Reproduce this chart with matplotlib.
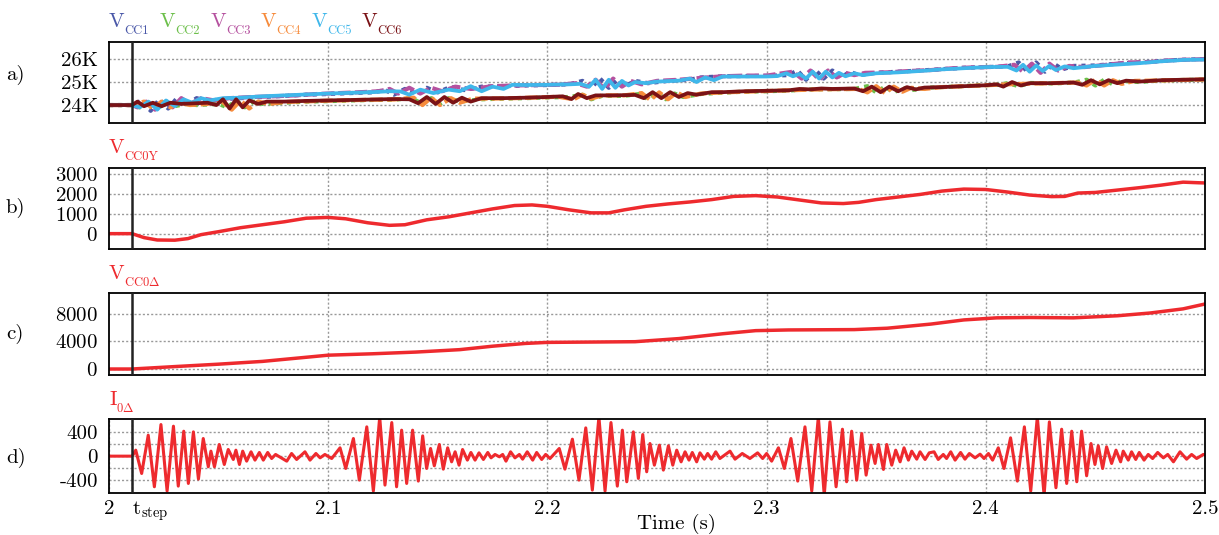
import numpy as np
import matplotlib
matplotlib.use("Agg")
import matplotlib.pyplot as plt

plt.rcParams['font.family'] = 'serif'
plt.rcParams['font.serif'] = ['cmr10']
plt.rcParams['mathtext.fontset'] = 'cm'
plt.rcParams['axes.formatter.use_mathtext'] = True

# ---- data (time in s, value) ----
t_step = 2.0105

vcc1 = [(2.0, 24000), (2.0105, 24000), (2.015, 24200), (2.019, 23750), (2.023, 24250), (2.027, 23850),
        (2.031, 24300), (2.035, 24000), (2.040, 24300), (2.045, 24150), (2.05, 24250), (2.06, 24300),
        (2.07, 24350), (2.08, 24400), (2.09, 24450), (2.10, 24480), (2.11, 24520), (2.12, 24550),
        (2.126, 24650), (2.130, 24450), (2.135, 24700), (2.140, 24500), (2.145, 24750), (2.150, 24550),
        (2.156, 24800), (2.162, 24650), (2.17, 24800), (2.18, 24820), (2.19, 24850), (2.20, 24870),
        (2.21, 24900), (2.216, 25050), (2.220, 24750), (2.224, 25150), (2.228, 24750), (2.232, 25100),
        (2.236, 24850), (2.240, 25050), (2.246, 24950), (2.255, 25050), (2.265, 25100), (2.27, 25200),
        (2.28, 25250), (2.29, 25260), (2.30, 25270), (2.31, 25300), (2.314, 25500), (2.318, 25100),
        (2.322, 25550), (2.326, 25150), (2.330, 25500), (2.334, 25200), (2.338, 25450), (2.342, 25300),
        (2.35, 25400), (2.36, 25450), (2.37, 25500), (2.38, 25560), (2.39, 25620), (2.40, 25650),
        (2.41, 25680), (2.415, 25850), (2.419, 25450), (2.423, 25850), (2.427, 25450), (2.431, 25800),
        (2.435, 25550), (2.44, 25700), (2.45, 25720), (2.46, 25800), (2.47, 25850), (2.48, 25920),
        (2.49, 25970), (2.50, 26000)]

vcc2 = [(2.0, 24000), (2.0105, 24000), (2.014, 23900), (2.018, 24150), (2.022, 23850), (2.026, 24100),
        (2.030, 23950), (2.035, 24050), (2.04, 24000), (2.05, 24050), (2.054, 23900), (2.058, 24200),
        (2.062, 23900), (2.066, 24150), (2.07, 24050), (2.08, 24100), (2.09, 24150), (2.10, 24170),
        (2.11, 24200), (2.12, 24220), (2.13, 24230), (2.138, 24300), (2.143, 24050), (2.147, 24300),
        (2.151, 24050), (2.155, 24300), (2.160, 24150), (2.17, 24250), (2.18, 24280), (2.19, 24300),
        (2.20, 24330), (2.21, 24350), (2.216, 24450), (2.220, 24250), (2.225, 24400), (2.235, 24400),
        (2.242, 24480), (2.246, 24250), (2.250, 24550), (2.254, 24250), (2.258, 24500), (2.262, 24350),
        (2.27, 24480), (2.28, 24540), (2.29, 24580), (2.30, 24600), (2.31, 24630), (2.32, 24680),
        (2.33, 24690), (2.34, 24700), (2.346, 24820), (2.350, 24550), (2.354, 24800), (2.358, 24550),
        (2.362, 24750), (2.366, 24650), (2.375, 24760), (2.385, 24800), (2.395, 24850), (2.405, 24880),
        (2.41, 24950), (2.415, 24820), (2.42, 24960), (2.43, 24940), (2.44, 24970), (2.446, 25100),
        (2.450, 24850), (2.454, 25100), (2.458, 24900), (2.462, 25050), (2.47, 25000), (2.48, 25070),
        (2.49, 25090), (2.50, 25110)]

vcc3 = [(2.0, 24000), (2.0105, 24000), (2.013, 23900), (2.017, 24150), (2.021, 23800), (2.025, 24250),
        (2.029, 23900), (2.033, 24300), (2.037, 24050), (2.042, 24300), (2.048, 24200), (2.055, 24300),
        (2.065, 24350), (2.075, 24380), (2.085, 24420), (2.095, 24480), (2.105, 24520), (2.115, 24560),
        (2.123, 24600), (2.128, 24700), (2.132, 24500), (2.137, 24750), (2.142, 24500), (2.147, 24750),
        (2.152, 24600), (2.158, 24800), (2.165, 24700), (2.175, 24820), (2.185, 24850), (2.195, 24870),
        (2.205, 24880), (2.213, 24950), (2.218, 24800), (2.222, 25100), (2.226, 24700), (2.230, 25150),
        (2.234, 24800), (2.238, 25050), (2.243, 24900), (2.25, 25050), (2.26, 25100), (2.27, 25180),
        (2.28, 25250), (2.29, 25280), (2.30, 25280), (2.312, 25450), (2.316, 25150), (2.320, 25500),
        (2.324, 25100), (2.328, 25500), (2.332, 25200), (2.336, 25400), (2.34, 25300), (2.345, 25400),
        (2.355, 25420), (2.365, 25480), (2.375, 25520), (2.385, 25600), (2.395, 25640), (2.405, 25660),
        (2.413, 25750), (2.417, 25450), (2.421, 25800), (2.425, 25400), (2.429, 25800), (2.433, 25500),
        (2.438, 25700), (2.445, 25650), (2.455, 25750), (2.465, 25850), (2.475, 25870), (2.485, 25950),
        (2.495, 25980), (2.50, 26000)]

vcc4 = [(2.0, 24000), (2.0105, 24000), (2.016, 24150), (2.020, 23850), (2.024, 24150), (2.028, 23900),
        (2.032, 24100), (2.037, 24000), (2.045, 24050), (2.051, 24200), (2.056, 23800), (2.060, 24200),
        (2.064, 23850), (2.068, 24150), (2.073, 24050), (2.08, 24130), (2.09, 24160), (2.10, 24190),
        (2.11, 24210), (2.12, 24230), (2.13, 24240), (2.139, 24320), (2.143, 24000), (2.147, 24320),
        (2.151, 24000), (2.156, 24300), (2.160, 24100), (2.166, 24280), (2.175, 24280), (2.185, 24300),
        (2.195, 24330), (2.205, 24360), (2.212, 24250), (2.216, 24450), (2.220, 24280), (2.225, 24420),
        (2.235, 24420), (2.243, 24520), (2.247, 24220), (2.251, 24550), (2.255, 24250), (2.259, 24550),
        (2.263, 24350), (2.27, 24500), (2.28, 24550), (2.29, 24580), (2.30, 24610), (2.31, 24640),
        (2.32, 24670), (2.33, 24690), (2.342, 24700), (2.346, 24550), (2.350, 24820), (2.354, 24520),
        (2.358, 24800), (2.362, 24580), (2.366, 24750), (2.372, 24700), (2.38, 24780), (2.39, 24820),
        (2.40, 24860), (2.41, 24900), (2.42, 24930), (2.43, 24950), (2.442, 24980), (2.446, 24850),
        (2.450, 25100), (2.454, 24850), (2.458, 25080), (2.462, 24920), (2.468, 25050), (2.48, 25070),
        (2.49, 25090), (2.50, 25110)]

vcc5 = [(2.0, 24000), (2.0105, 24000), (2.014, 23900), (2.018, 24150), (2.022, 23800), (2.026, 24200),
        (2.030, 23950), (2.034, 24250), (2.038, 24100), (2.042, 24300), (2.046, 24200), (2.052, 24300),
        (2.06, 24320), (2.07, 24380), (2.08, 24420), (2.09, 24460), (2.10, 24500), (2.11, 24530),
        (2.12, 24560), (2.128, 24600), (2.133, 24590), (2.137, 24450), (2.142, 24670), (2.148, 24520),
        (2.155, 24670), (2.160, 24600), (2.165, 24820), (2.170, 24600), (2.175, 24800), (2.180, 24700),
        (2.184, 24880), (2.19, 24870), (2.20, 24880), (2.21, 24900), (2.215, 24920), (2.219, 24800),
        (2.222, 25100), (2.225, 24700), (2.228, 25100), (2.231, 24750), (2.234, 25050), (2.237, 24850),
        (2.240, 25000), (2.245, 24950), (2.25, 25020), (2.26, 25060), (2.265, 25150), (2.268, 25000),
        (2.272, 25200), (2.276, 25080), (2.28, 25240), (2.29, 25240), (2.30, 25240), (2.305, 25260),
        (2.309, 25380), (2.312, 25250), (2.315, 25350), (2.318, 25150), (2.321, 25450), (2.324, 25150),
        (2.327, 25450), (2.330, 25200), (2.333, 25400), (2.336, 25250), (2.340, 25380), (2.344, 25300),
        (2.35, 25380), (2.36, 25420), (2.37, 25480), (2.38, 25550), (2.39, 25600), (2.40, 25650),
        (2.41, 25660), (2.414, 25500), (2.417, 25750), (2.420, 25450), (2.423, 25720), (2.426, 25480),
        (2.429, 25700), (2.432, 25520), (2.436, 25680), (2.44, 25600), (2.45, 25700), (2.46, 25760),
        (2.47, 25820), (2.48, 25900), (2.49, 25960), (2.50, 25980)]

vcc6 = [(2.0, 24000), (2.0105, 24000), (2.013, 24150), (2.016, 23950), (2.020, 24100), (2.024, 23950),
        (2.028, 24100), (2.033, 24050), (2.04, 24080), (2.045, 24100), (2.049, 24000), (2.052, 24250),
        (2.055, 23850), (2.058, 24250), (2.061, 23900), (2.064, 24200), (2.068, 24050), (2.072, 24150),
        (2.08, 24150), (2.09, 24180), (2.10, 24200), (2.11, 24220), (2.12, 24240), (2.13, 24260),
        (2.137, 24250), (2.141, 24080), (2.145, 24350), (2.149, 24050), (2.153, 24350), (2.157, 24100),
        (2.161, 24320), (2.165, 24150), (2.170, 24300), (2.18, 24300), (2.19, 24320), (2.20, 24350),
        (2.207, 24380), (2.211, 24260), (2.214, 24480), (2.218, 24300), (2.222, 24420), (2.23, 24420),
        (2.24, 24440), (2.244, 24300), (2.248, 24560), (2.252, 24300), (2.256, 24560), (2.260, 24350),
        (2.264, 24520), (2.268, 24450), (2.275, 24560), (2.28, 24560), (2.29, 24600), (2.30, 24620),
        (2.31, 24640), (2.315, 24700), (2.32, 24680), (2.325, 24720), (2.33, 24700), (2.34, 24720),
        (2.344, 24600), (2.348, 24800), (2.352, 24560), (2.356, 24800), (2.360, 24600), (2.364, 24780),
        (2.368, 24680), (2.372, 24760), (2.38, 24780), (2.39, 24820), (2.40, 24860), (2.405, 24900),
        (2.408, 24800), (2.412, 25000), (2.416, 24850), (2.420, 24950), (2.43, 24950), (2.44, 24980),
        (2.444, 24880), (2.448, 25080), (2.452, 24900), (2.456, 25080), (2.460, 24950), (2.464, 25060),
        (2.47, 25020), (2.48, 25080), (2.49, 25100), (2.50, 25120)]

vcc0y = [(2.0, 0), (2.0105, 0), (2.016, -200), (2.022, -320), (2.030, -330), (2.036, -250), (2.042, -50),
         (2.050, 100), (2.060, 300), (2.070, 450), (2.080, 600), (2.090, 780), (2.100, 820), (2.108, 750),
         (2.118, 550), (2.128, 420), (2.135, 450), (2.145, 700), (2.155, 850), (2.165, 1050), (2.175, 1250),
         (2.185, 1420), (2.193, 1450), (2.200, 1380), (2.210, 1200), (2.220, 1050), (2.228, 1050),
         (2.235, 1200), (2.245, 1380), (2.255, 1500), (2.265, 1600), (2.275, 1720), (2.285, 1880),
         (2.295, 1920), (2.305, 1850), (2.315, 1700), (2.325, 1550), (2.335, 1520), (2.342, 1580),
         (2.350, 1720), (2.360, 1850), (2.370, 1980), (2.380, 2150), (2.390, 2250), (2.400, 2230),
         (2.410, 2100), (2.420, 1950), (2.430, 1870), (2.436, 1880), (2.442, 2050), (2.450, 2080),
         (2.460, 2200), (2.470, 2320), (2.480, 2450), (2.490, 2600), (2.497, 2570), (2.500, 2560)]

vcc0d = [(2.0, 0), (2.0105, 0), (2.03, 350), (2.05, 700), (2.07, 1100), (2.09, 1700), (2.10, 2000),
         (2.12, 2200), (2.14, 2450), (2.16, 2800), (2.175, 3300), (2.19, 3700), (2.20, 3850), (2.22, 3900),
         (2.24, 3950), (2.26, 4400), (2.28, 5100), (2.295, 5550), (2.31, 5650), (2.34, 5700), (2.355, 5900),
         (2.375, 6500), (2.39, 7100), (2.405, 7400), (2.42, 7450), (2.44, 7400), (2.46, 7700),
         (2.475, 8100), (2.49, 8700), (2.50, 9400)]

i0d = [(2.0, 0), (2.0106, 0), (2.0122, 99), (2.0149, -287), (2.0179, 347), (2.0207, -507), (2.0237, 523),
       (2.0265, -578), (2.0294, 496), (2.0316, -496), (2.0341, 413), (2.0362, -452), (2.0385, 402),
       (2.0408, -380), (2.0430, 292), (2.0453, -176), (2.0465, 83), (2.0481, -176), (2.0503, 193),
       (2.0526, -138), (2.0544, 110), (2.0567, -55), (2.0579, 99), (2.0595, -138), (2.0610, 83),
       (2.0628, -83), (2.0648, 72), (2.0666, -66), (2.0686, 61), (2.0704, -66), (2.0724, 61),
       (2.0742, -39), (2.0760, 28), (2.0811, -83), (2.0833, 44), (2.0856, -55), (2.0894, 72),
       (2.0917, -66), (2.0944, 44), (2.0963, -28), (2.0985, 28), (2.1016, -39), (2.1054, 138),
       (2.1080, -204), (2.1115, 292), (2.1142, -397), (2.1176, 485), (2.1206, -578), (2.1235, 650),
       (2.1259, -479), (2.1290, 556), (2.1312, -507), (2.1335, 430), (2.1358, -452), (2.1385, 430),
       (2.1411, -413), (2.1431, 336), (2.1449, -204), (2.1467, 127), (2.1484, -160), (2.1507, 193),
       (2.1525, -215), (2.1545, 138), (2.1563, -94), (2.1579, 72), (2.1597, -149), (2.1613, 110),
       (2.1635, -66), (2.1651, 61), (2.1670, -66), (2.1688, 55), (2.1708, -55), (2.1728, 61),
       (2.1743, -28), (2.1761, 28), (2.1781, -11), (2.1796, 28), (2.1811, -83), (2.1832, 72),
       (2.1852, -28), (2.1872, 28), (2.1887, -50), (2.1908, 72), (2.1933, -66), (2.1951, 61),
       (2.1974, -55), (2.1992, 28), (2.2012, -39), (2.2054, 127), (2.2080, -215), (2.2114, 281),
       (2.2144, -397), (2.2175, 468), (2.2205, -562), (2.2235, 650), (2.2263, -578), (2.2290, 556),
       (2.2319, -496), (2.2342, 430), (2.2362, -424), (2.2392, 402), (2.2415, -369), (2.2435, 358),
       (2.2453, -259), (2.2468, 209), (2.2488, -149), (2.2511, 182), (2.2529, -231), (2.2552, 171),
       (2.2572, -149), (2.2590, 99), (2.2610, -94), (2.2628, 72), (2.2646, -66), (2.2661, 61),
       (2.2681, -94), (2.2696, 55), (2.2716, -50), (2.2731, 44), (2.2749, -50), (2.2768, 72),
       (2.2787, -39), (2.2833, 83), (2.2856, -50), (2.2889, 44), (2.2924, -39), (2.2959, 55),
       (2.2982, -39), (2.3000, 44), (2.3023, -83), (2.3054, 138), (2.3081, -204), (2.3111, 292),
       (2.3142, -413), (2.3175, 485), (2.3206, -578), (2.3236, 650), (2.3263, -650), (2.3289, 567),
       (2.3317, -507), (2.3346, 446), (2.3365, -424), (2.3388, 413), (2.3411, -397), (2.3434, 375),
       (2.3454, -314), (2.3476, 182), (2.3495, -121), (2.3510, 193), (2.3533, -220), (2.3548, 193),
       (2.3571, -149), (2.3589, 99), (2.3609, -94), (2.3627, 138), (2.3647, -66), (2.3662, 83),
       (2.3685, -50), (2.3700, 72), (2.3723, -55), (2.3742, 55), (2.3764, 72), (2.3783, -55),
       (2.3806, 28), (2.3821, -39), (2.3840, 72), (2.3860, -66), (2.3885, 61), (2.3905, -50),
       (2.3925, 44), (2.3951, -28), (2.3974, 33), (2.3992, -39), (2.4012, 44), (2.4031, -66),
       (2.4057, 138), (2.4083, -204), (2.4113, 303), (2.4144, -413), (2.4176, 485), (2.4205, -578),
       (2.4235, 650), (2.4266, -650), (2.4290, 567), (2.4320, -523), (2.4346, 446), (2.4369, -452),
       (2.4392, 413), (2.4415, -424), (2.4437, 413), (2.4460, -325), (2.4480, 209), (2.4498, -138),
       (2.4513, 171), (2.4533, -204), (2.4551, 154), (2.4574, -121), (2.4594, 99), (2.4615, -94),
       (2.4627, 83), (2.4650, -66), (2.4665, 72), (2.4684, -55), (2.4700, 61), (2.4722, -66),
       (2.4741, 28), (2.4761, -39), (2.4784, 61), (2.4810, -28), (2.4830, 28), (2.4856, -94),
       (2.4886, 72), (2.4916, -50), (2.4939, 28), (2.4962, -39), (2.4992, 28), (2.5, 20)]

x_ticks = [2.0, t_step, 2.1, 2.2, 2.3, 2.4, 2.5]
x_labels = ['2', r'$\mathrm{t}_{\mathrm{step}}$', '2.1', '2.2', '2.3', '2.4', '2.5']
a_ticks = [24000, 25000, 26000]
a_labels = ['24K', '25K', '26K']
b_ticks = [0, 1000, 2000, 3000]
c_ticks = [0, 4000, 8000]
d_ticks = [-400, 0, 400]

vcc_names = ['CC1', 'CC2', 'CC3', 'CC4', 'CC5', 'CC6']
vcc_colors = ['#4a58a8', '#6cbf4a', '#b5519f', '#f68b3c', '#3fb7ea', '#7a1216']
red = '#ee2a2e'

fig = plt.figure(figsize=(12.19, 5.35), dpi=100)
W, H = 1219, 535
FS = 15


def make_axes(top, bottom):
    ax = fig.add_axes([109 / W, 1 - bottom / H, (1205 - 109) / W, (bottom - top) / H])
    ax.set_xlim(2.0, 2.5)
    ax.tick_params(length=0, labelsize=FS, pad=8)
    for s in ax.spines.values():
        s.set_linewidth(1.3)
    ax.set_xticks([2.1, 2.2, 2.3, 2.4])
    ax.xaxis.grid(True, color='#999999', linestyle=(0, (1.5, 1.5)), linewidth=1.0)
    ax.yaxis.grid(True, which='both', color='#999999', linestyle=(0, (1.5, 1.5)), linewidth=1.0)
    ax.set_axisbelow(True)
    ax.axvline(t_step, color='#222222', linewidth=1.8, zorder=5)
    return ax


def label(x, y, main, sub, color, sub_dx):
    # big letter with a small, lowered subscript, as in the figure
    fig.text(x / W, 1 - y / H, main, color=color, fontsize=15, va='baseline', ha='left')
    fig.text((x + sub_dx) / W, 1 - (y + 7) / H, sub, color=color, fontsize=9,
             va='baseline', ha='left')


# a) capacitor voltages
ax_a = make_axes(42, 123)
styles = [(0, (1, 1.2)), (0, (1, 1.2)), (0, (3, 1)), (0, (3, 1)), '-', '-']
widths = [3.0, 3.0, 3.0, 3.0, 2.7, 2.7]
for series, c, ls, lw in zip([vcc1, vcc2, vcc3, vcc4, vcc5, vcc6], vcc_colors, styles, widths):
    d = np.array(series).T
    ax_a.plot(d[0], d[1], color=c, linestyle=ls, linewidth=lw)
ax_a.set_ylim(23220, 26740)
ax_a.set_yticks(a_ticks)
ax_a.set_yticklabels(a_labels)
ax_a.set_xticklabels([])

# b) V_CC0Y
ax_b = make_axes(167.7, 249.3)
d = np.array(vcc0y).T
ax_b.plot(d[0], d[1], color=red, linewidth=2.5)
ax_b.set_ylim(-790, 3330)
ax_b.set_yticks(b_ticks)
ax_b.set_xticklabels([])

# c) V_CC0Delta
ax_c = make_axes(293.3, 375.3)
d = np.array(vcc0d).T
ax_c.plot(d[0], d[1], color=red, linewidth=2.5)
ax_c.set_ylim(-910, 10950)
ax_c.set_yticks(c_ticks)
ax_c.set_xticklabels([])

# d) I_0Delta
ax_d = make_axes(419.3, 492.7)
d = np.array(i0d).T
ax_d.plot(d[0], d[1], color=red, linewidth=2.2)
ax_d.set_ylim(-605, 610)
ax_d.set_yticks(d_ticks)
ax_d.set_yticklabels(['-400', '0', '400'])
ax_d.set_yticks([-200, 200], minor=True)
ax_d.tick_params(which='minor', length=0)
ax_d.set_xticks(x_ticks)
ax_d.set_xticklabels(x_labels)
ax_d.tick_params(axis='x', pad=5)
ax_d.get_xticklabels()[1].set_ha('left')
fig.text(676 / W, 1 - 529 / H, 'Time (s)', fontsize=FS, ha='center', va='baseline')

# panel letters
for letter, y in zip(['a)', 'b)', 'c)', 'd)'], [75, 208, 334, 458]):
    fig.text(6 / W, 1 - y / H, letter, fontsize=FS, va='center', ha='left')

# signal names
for name, c, x in zip(vcc_names, vcc_colors, [109, 160, 211, 261, 312, 362]):
    label(x, 27, 'V', name, c, 15)
label(109, 153, 'V', 'CC0Y', red, 15)
label(109, 279, 'V', r'CC0$\Delta$', red, 15)
label(109, 405, 'I', r'0$\Delta$', red, 7)

fig.savefig('out.png', dpi=100)
